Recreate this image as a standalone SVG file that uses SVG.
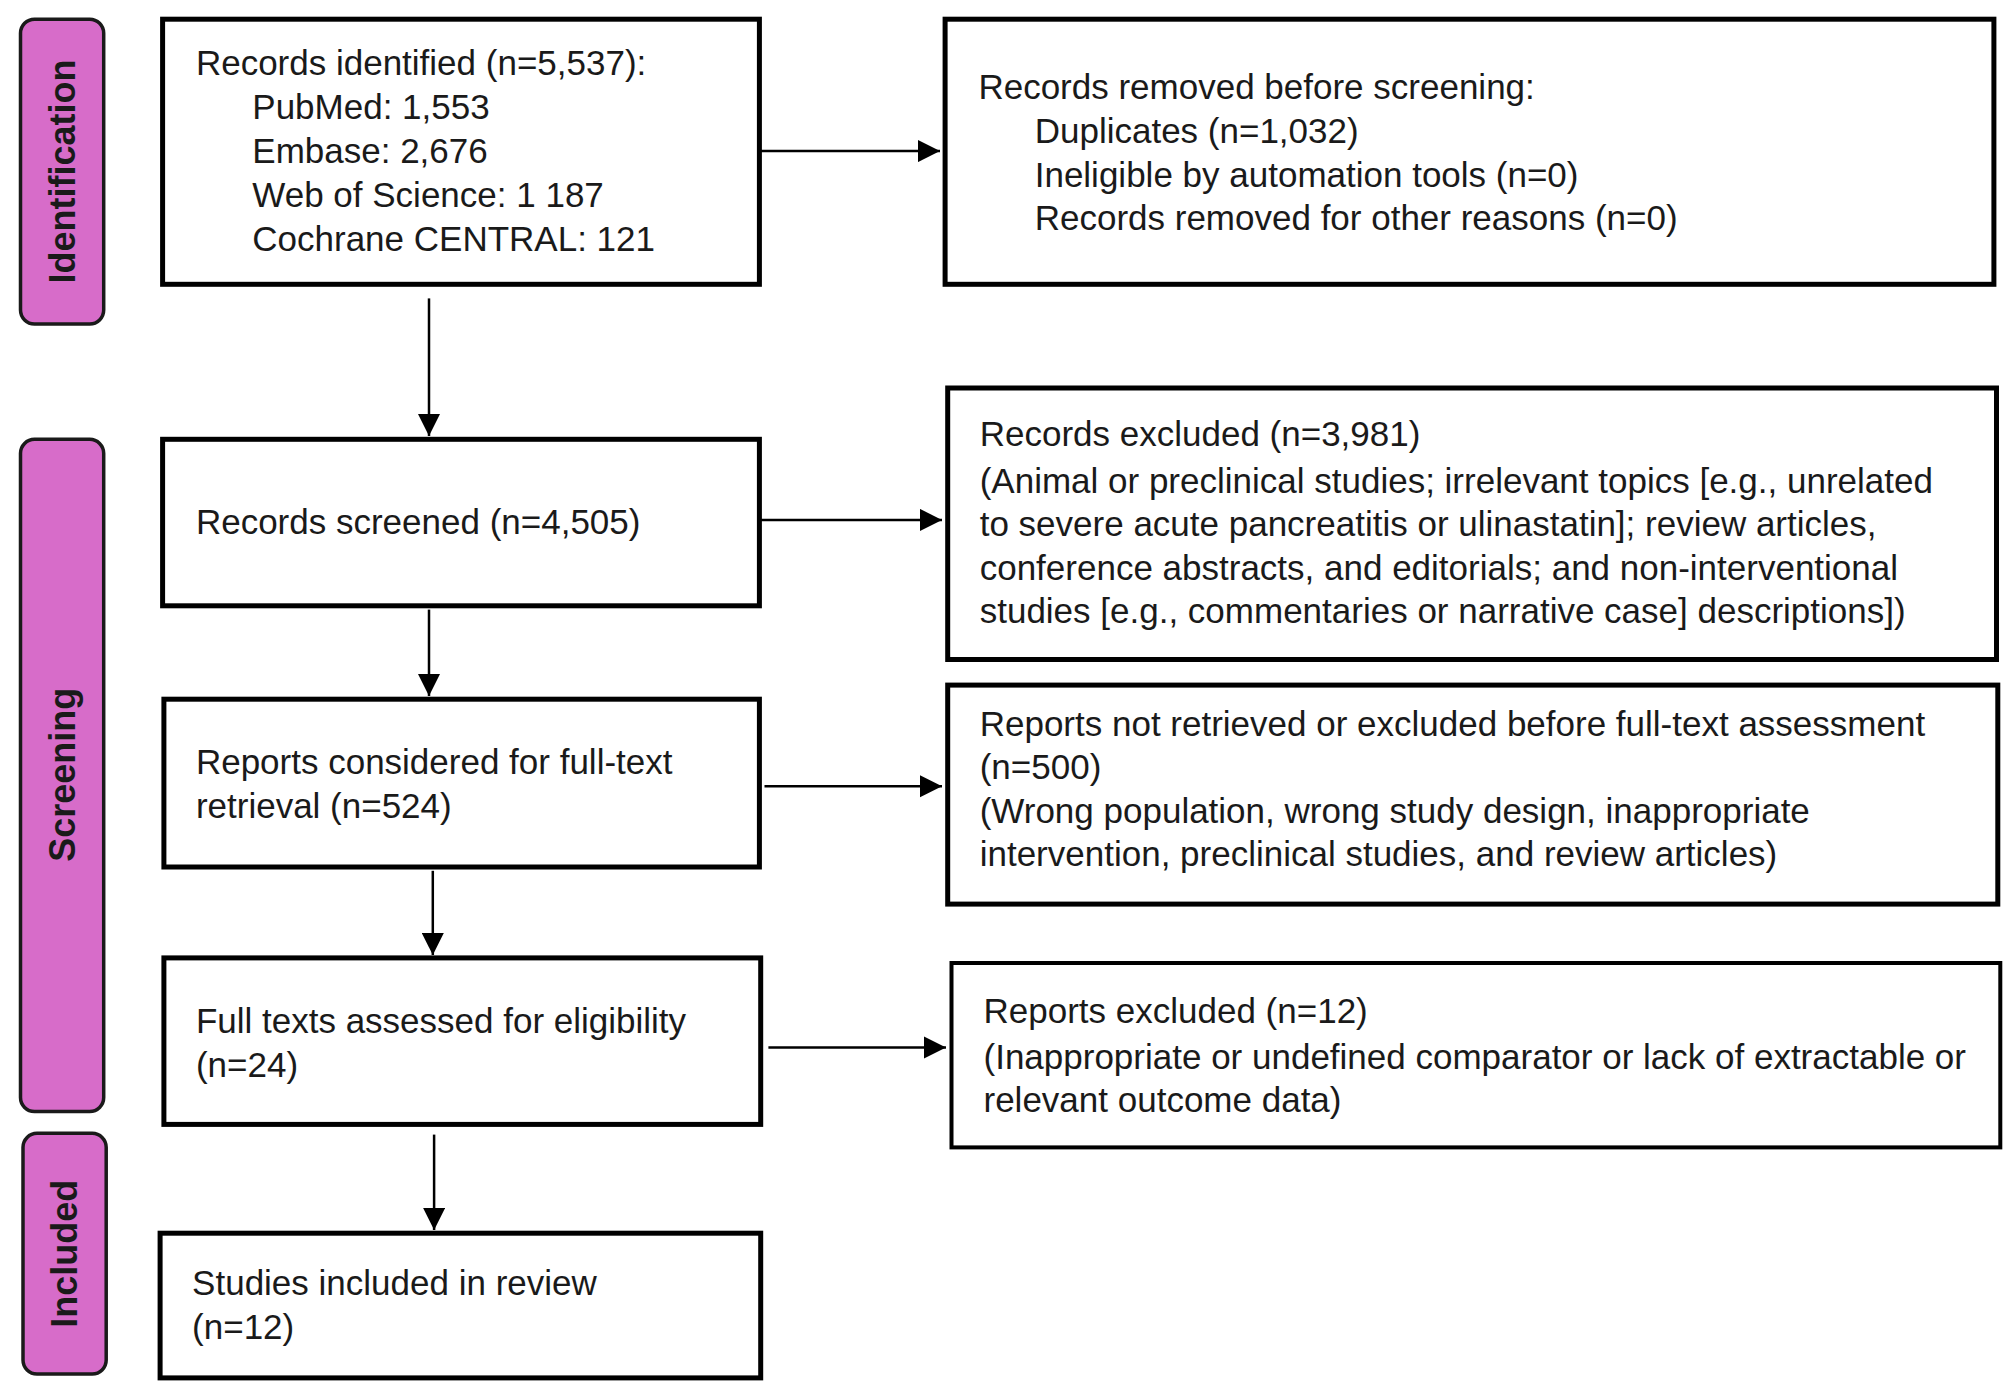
<svg xmlns="http://www.w3.org/2000/svg" width="2008" height="1392" viewBox="0 0 2008 1392">
<style>
.box{fill:#fff;stroke:#000;stroke-width:5}
.lab{fill:#D76CC9;stroke:#1a1a1a;stroke-width:3.5}
.lt{font-family:"Liberation Sans",Arial,sans-serif;font-weight:bold;font-size:36px;fill:#1a1a1a;text-anchor:middle}
.t{font-family:"Liberation Sans",Arial,sans-serif;font-size:35px;fill:#1a1a1a}
.c{stroke:#000;stroke-width:2.5;fill:none;marker-end:url(#ah)}
</style>
<defs>
<marker id="ah" viewBox="0 0 10 10" refX="10" refY="5" markerWidth="9" markerHeight="9" markerUnits="strokeWidth" orient="auto">
<path d="M0,0 L10,5 L0,10 z" fill="#000"/>
</marker>
</defs>
<rect width="2008" height="1392" fill="#fff"/>
<g id="label-identification">
<rect class="lab" x="20.5" y="19.2" width="83.2" height="304.8" rx="14"/>
<text class="lt" transform="translate(74.5,171.6) rotate(-90)">Identification</text>
</g>
<g id="label-screening">
<rect class="lab" x="20.5" y="439.3" width="83.2" height="672.3" rx="14"/>
<text class="lt" transform="translate(74.5,774.8) rotate(-90)">Screening</text>
</g>
<g id="label-included">
<rect class="lab" x="23" y="1133.3" width="83.2" height="240.8" rx="14"/>
<text class="lt" transform="translate(77,1253.7) rotate(-90)">Included</text>
</g>
<g id="n1">
<rect class="box" x="162.6" y="19.2" width="596.8" height="265.1"/>
<text class="t" x="195.9" y="75">Records identified (n=5,537):</text>
<text class="t" x="252.3" y="118.6">PubMed: 1,553</text>
<text class="t" x="252.3" y="163.4">Embase: 2,676</text>
<text class="t" x="252.3" y="207">Web of Science: 1 187</text>
<text class="t" x="252.3" y="250.5">Cochrane CENTRAL: 121</text>
</g>
<g id="n2">
<rect class="box" x="945.1" y="19.2" width="1048.8" height="265.1"/>
<text class="t" x="978.4" y="99.4">Records removed before screening:</text>
<text class="t" x="1034.7" y="143">Duplicates (n=1,032)</text>
<text class="t" x="1034.7" y="186.5">Ineligible by automation tools (n=0)</text>
<text class="t" x="1034.7" y="230">Records removed for other reasons (n=0)</text>
</g>
<g id="n3">
<rect class="box" x="162.6" y="439.3" width="596.8" height="166.5"/>
<text class="t" x="195.9" y="533.5">Records screened (n=4,505)</text>
</g>
<g id="n4">
<rect class="box" x="947.7" y="388" width="1048.8" height="271.5"/>
<text class="t" x="979.7" y="446.4">Records excluded (n=3,981)</text>
<text class="t" x="979.7" y="492.5">(Animal or preclinical studies; irrelevant topics [e.g., unrelated</text>
<text class="t" x="979.7" y="536">to severe acute pancreatitis or ulinastatin]; review articles,</text>
<text class="t" x="979.7" y="579.6">conference abstracts, and editorials; and non-interventional</text>
<text class="t" x="979.7" y="623.1">studies [e.g., commentaries or narrative case] descriptions])</text>
</g>
<g id="n5">
<rect class="box" x="163.9" y="699.2" width="595.5" height="167.8"/>
<text class="t" x="195.9" y="774.2">Reports considered for full-text</text>
<text class="t" x="195.9" y="817.8">retrieval (n=524)</text>
</g>
<g id="n6">
<rect class="box" x="947.7" y="685.1" width="1050.1" height="219"/>
<text class="t" x="979.7" y="735.8">Reports not retrieved or excluded before full-text assessment</text>
<text class="t" x="979.7" y="779.4">(n=500)</text>
<text class="t" x="979.7" y="822.9">(Wrong population, wrong study design, inappropriate</text>
<text class="t" x="979.7" y="866.4">intervention, preclinical studies, and review articles)</text>
</g>
<g id="n7">
<rect class="box" x="163.9" y="957.9" width="596.8" height="166.5"/>
<text class="t" x="195.9" y="1032.9">Full texts assessed for eligibility</text>
<text class="t" x="195.9" y="1076.5">(n=24)</text>
</g>
<g id="n8">
<rect class="box" x="951.5" y="963" width="1048.8" height="184.4" style="stroke-width:4"/>
<text class="t" x="983.5" y="1022.7">Reports excluded (n=12)</text>
<text class="t" x="983.5" y="1068.8">(Inappropriate or undefined comparator or lack of extractable or</text>
<text class="t" x="983.5" y="1112.3">relevant outcome data)</text>
</g>
<g id="n9">
<rect class="box" x="160.1" y="1233.2" width="600.6" height="144.7"/>
<text class="t" x="192.1" y="1295.4">Studies included in review</text>
<text class="t" x="192.1" y="1339">(n=12)</text>
</g>
<g id="connectors">
<line class="c" x1="761" y1="151.1" x2="940" y2="151.1"/>
<line class="c" x1="429" y1="298.4" x2="429" y2="436"/>
<line class="c" x1="761" y1="519.9" x2="942" y2="519.9"/>
<line class="c" x1="429" y1="609.6" x2="429" y2="696"/>
<line class="c" x1="764.5" y1="786.3" x2="942" y2="786.3"/>
<line class="c" x1="432.8" y1="870.8" x2="432.8" y2="955"/>
<line class="c" x1="768.4" y1="1047.5" x2="946" y2="1047.5"/>
<line class="c" x1="434.1" y1="1134.6" x2="434.1" y2="1230"/>
</g>
</svg>
